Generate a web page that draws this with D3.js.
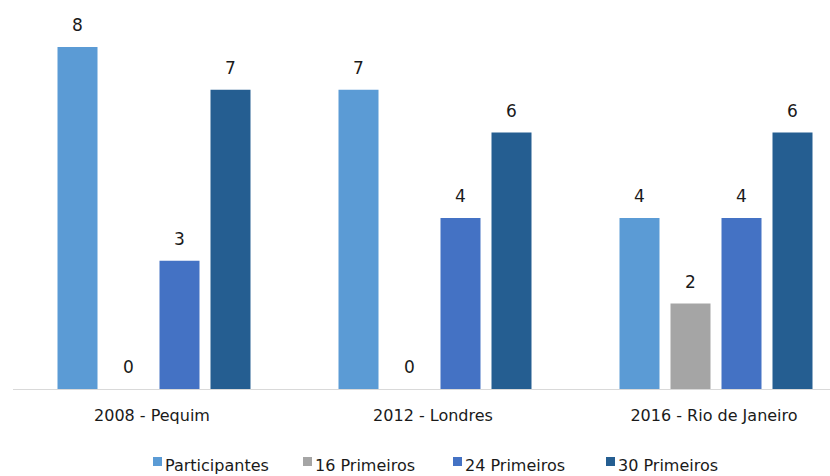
<!DOCTYPE html>
<html><head><meta charset="utf-8">
<script src="https://cdn.jsdelivr.net/npm/d3@7"></script>
<style>body{margin:0;background:#fff}svg{display:block}</style>
</head><body><svg id="c" width="830" height="476"></svg>
<script>
const categories = ["2008 - Pequim", "2012 - Londres", "2016 - Rio de Janeiro"];
const seriesNames = ["Participantes", "16 Primeiros", "24 Primeiros", "30 Primeiros"];
const participantes = [8, 7, 4];
const primeiros16 = [0, 0, 2];
const primeiros24 = [3, 4, 4];
const primeiros30 = [7, 6, 6];
const colors = ["#5B9BD5", "#A5A5A5", "#4472C4", "#255E91"];
const seriesValues = [participantes, primeiros16, primeiros24, primeiros30];

const svg = d3.select("#c");
const font = "'DejaVu Sans',sans-serif";
const baseY = 389, topY = 47;
const y = d3.scaleLinear().domain([0, 8]).range([baseY, topY]);
const x0 = d3.scaleBand().domain(categories).range([13.5, 856.5]).padding(0);
const half = 96.5;
const x1 = d3.scaleBand().domain(seriesNames)
  .range([x0.bandwidth()/2 - half, x0.bandwidth()/2 + half]).paddingInner(11/51).paddingOuter(0);

svg.append("line").attr("x1", 13).attr("x2", 830).attr("y1", baseY + 0.5).attr("y2", baseY + 0.5)
  .attr("stroke", "#D9D9D9").attr("stroke-width", 1);

const g = svg.append("g");
categories.forEach((cat, ci) => {
  seriesNames.forEach((s, si) => {
    const v = seriesValues[si][ci];
    const bx = x0(cat) + x1(s);
    if (v > 0) {
      g.append("rect").attr("x", bx).attr("y", y(v)).attr("width", x1.bandwidth())
        .attr("height", baseY - y(v)).attr("fill", colors[si]);
    }
    g.append("text").attr("x", bx + x1.bandwidth()/2).attr("y", y(v) - 16)
      .attr("text-anchor", "middle").attr("font-family", font).attr("font-size", 17)
      .attr("fill", "#1a1a1a").text(v);
  });
  svg.append("text").attr("x", x0(cat) + x0.bandwidth()/2 - 2).attr("y", 421)
    .attr("text-anchor", "middle").attr("font-family", font).attr("font-size", 16)
    .attr("fill", "#1a1a1a").text(cat);
});

const legX = [153, 303, 453, 606];
seriesNames.forEach((s, i) => {
  const lg = svg.append("g").attr("transform", `translate(${legX[i]},0)`);
  lg.append("rect").attr("x", 0).attr("y", 457).attr("width", 9).attr("height", 9).attr("fill", colors[i]);
  lg.append("text").attr("x", 12).attr("y", 471).attr("font-family", font).attr("font-size", 16)
    .attr("fill", "#1a1a1a").text(s);
});
</script></body></html>
